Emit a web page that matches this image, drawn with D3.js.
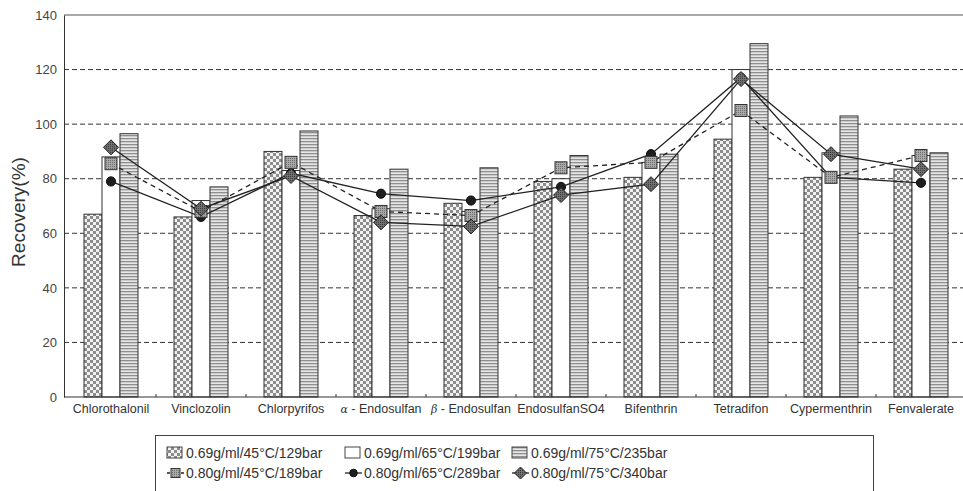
<!DOCTYPE html>
<html>
<head>
<meta charset="utf-8">
<script src="https://cdn.jsdelivr.net/npm/d3@7"></script>
<style>
  body { margin: 0; background: #fff; }
  svg { display: block; font-family: "Liberation Sans", Arial, sans-serif; }
</style>
</head>
<body>
<svg id="chart" width="963" height="491"></svg>
<script>
// chart data
const categories = ["Chlorothalonil", "Vinclozolin", "Chlorpyrifos", "α - Endosulfan", "β - Endosulfan",
  "EndosulfanSO4", "Bifenthrin", "Tetradifon", "Cypermenthrin", "Fenvalerate"];
const yTicks = [0, 20, 40, 60, 80, 100, 120, 140];

const bars45 = [67, 66, 90, 66.5, 71, 79, 80.5, 94.5, 80.5, 83.5];
const bars65 = [88, 72, 83, 69, 68, 80, 86, 120, 89.5, 88.5];
const bars75 = [96.5, 77, 97.5, 83.5, 84, 88.5, 89, 129.5, 103, 89.5];

const line189 = [85.5, 68, 86, 68, 66.5, 84, 86, 105, 80.5, 88.5];
const line289 = [79, 66, 82, 74.5, 72, 77, 89, 117, 80.5, 78.5];
const line340 = [91.5, 69, 81, 64, 62.5, 74, 78, 116.5, 89, 83.5];

const barSeries = [
  { name: "0.69g/ml/45°C/129bar", values: bars45, fill: "url(#checker)" },
  { name: "0.69g/ml/65°C/199bar", values: bars65, fill: "#fff" },
  { name: "0.69g/ml/75°C/235bar", values: bars75, fill: "url(#stripes)" }
];
const lineSeries = [
  { name: "0.80g/ml/45°C/189bar", values: line189, marker: "square", dash: "5,4" },
  { name: "0.80g/ml/65°C/289bar", values: line289, marker: "circle", dash: null },
  { name: "0.80g/ml/75°C/340bar", values: line340, marker: "diamond", dash: null }
];

const svg = d3.select("#chart");
const plotLeft = 64, plotRight = 964, plotTop = 15, plotBottom = 397;

const x = d3.scaleBand().domain(categories).range([66, 966]);
const xi = d3.scaleBand().domain([0, 1, 2]).range([-27, 27]);
const y = d3.scaleLinear().domain([0, 140]).range([plotBottom, plotTop]);

// fill patterns
const defs = svg.append("defs");
const checker = defs.append("pattern").attr("id", "checker")
  .attr("patternUnits", "userSpaceOnUse").attr("width", 6).attr("height", 6);
checker.append("rect").attr("width", 6).attr("height", 6).attr("fill", "#f2f2f2");
checker.append("rect").attr("width", 3).attr("height", 3).attr("fill", "#8c8c8c");
checker.append("rect").attr("x", 3).attr("y", 3).attr("width", 3).attr("height", 3).attr("fill", "#8c8c8c");

const stripes = defs.append("pattern").attr("id", "stripes")
  .attr("patternUnits", "userSpaceOnUse").attr("width", 4).attr("height", 3);
stripes.append("rect").attr("width", 4).attr("height", 3).attr("fill", "#e6e6e6");
stripes.append("rect").attr("width", 4).attr("height", 1.3).attr("fill", "#8f8f8f");

const sqFill = defs.append("pattern").attr("id", "sqfill")
  .attr("patternUnits", "userSpaceOnUse").attr("width", 2).attr("height", 2);
sqFill.append("rect").attr("width", 2).attr("height", 2).attr("fill", "#a8a8a8");
sqFill.append("rect").attr("width", 1).attr("height", 1).attr("fill", "#6e6e6e");

const dmFill = defs.append("pattern").attr("id", "dmfill")
  .attr("patternUnits", "userSpaceOnUse").attr("width", 2).attr("height", 2);
dmFill.append("rect").attr("width", 2).attr("height", 2).attr("fill", "#707070");
dmFill.append("rect").attr("width", 1).attr("height", 1).attr("fill", "#3a3a3a");

// grid
svg.append("g").selectAll("line")
  .data(yTicks.filter(t => t > 0 && t < 140))
  .join("line")
  .attr("x1", plotLeft).attr("x2", plotRight)
  .attr("y1", d => y(d)).attr("y2", d => y(d))
  .attr("stroke", "#333").attr("stroke-width", 1).attr("stroke-dasharray", "5,3");

svg.append("line").attr("x1", plotLeft).attr("x2", plotRight).attr("y1", y(140)).attr("y2", y(140))
  .attr("stroke", "#555").attr("stroke-width", 1.2);

// y axis
const yAxis = d3.axisLeft(y).tickValues(yTicks).tickSize(0).tickPadding(7);
const gy = svg.append("g").attr("transform", `translate(${plotLeft},0)`).call(yAxis);
gy.select(".domain").attr("stroke", "#333");
gy.selectAll("text").attr("font-size", 13).attr("fill", "#444")
  .attr("font-family", "Liberation Sans, Arial, sans-serif");

svg.append("text")
  .attr("transform", `translate(25,${(plotTop + plotBottom) / 2 + 6}) rotate(-90)`)
  .attr("text-anchor", "middle").attr("font-size", 19).attr("fill", "#333")
  .text("Recovery(%)");

// bars
barSeries.forEach((s, i) => {
  svg.append("g").selectAll("rect")
    .data(s.values)
    .join("rect")
    .attr("x", (d, j) => x(categories[j]) + x.bandwidth() / 2 + xi(i))
    .attr("y", d => y(d))
    .attr("width", xi.bandwidth())
    .attr("height", d => y(0) - y(d))
    .attr("fill", s.fill)
    .attr("stroke", "#333").attr("stroke-width", 1);
});

// x axis
const xAxis = d3.axisBottom(x).tickSize(0).tickPadding(7);
const gx = svg.append("g").attr("transform", `translate(0,${plotBottom})`).call(xAxis);
gx.select(".domain").remove();
gx.selectAll("text").attr("font-size", 12.5).attr("fill", "#333")
  .attr("font-family", "Liberation Sans, Arial, sans-serif")
  .each(function (d) {
    const m = /^([αβ])(.*)$/.exec(d);
    if (m) {
      const t = d3.select(this).text(null);
      t.append("tspan").attr("font-style", "italic").attr("font-family", "DejaVu Serif, serif").attr("font-size", 11).text(m[1]);
      t.append("tspan").text(m[2]);
    }
  });
svg.append("line").attr("x1", plotLeft).attr("x2", plotRight).attr("y1", plotBottom).attr("y2", plotBottom)
  .attr("stroke", "#333").attr("stroke-width", 1.2);
svg.append("g").selectAll("line")
  .data(categories.slice(1))
  .join("line")
  .attr("x1", d => x(d)).attr("x2", d => x(d))
  .attr("y1", plotBottom).attr("y2", plotBottom - 3)
  .attr("stroke", "#333");

// lines + markers
const cx = j => x(categories[j]) + x.bandwidth() / 2;
const line = d3.line().x((d, j) => cx(j)).y(d => y(d));

function drawMarker(g, type, px, py, r) {
  if (type === "square") {
    g.append("rect").attr("x", px - r).attr("y", py - r).attr("width", 2 * r).attr("height", 2 * r)
      .attr("fill", "url(#sqfill)").attr("stroke", "#333").attr("stroke-width", 1);
  } else if (type === "circle") {
    g.append("circle").attr("cx", px).attr("cy", py).attr("r", r)
      .attr("fill", "#1e1e1e").attr("stroke", "#111");
  } else {
    g.append("path").attr("d", `M${px},${py - r}L${px + r},${py}L${px},${py + r}L${px - r},${py}Z`)
      .attr("fill", "url(#dmfill)").attr("stroke", "#222").attr("stroke-width", 1);
  }
}
const markerSize = { square: 6, circle: 4.6, diamond: 7.5 };

// circles sit under the squares, diamonds on top
[1, 0, 2].map(i => lineSeries[i]).forEach(s => {
  const g = svg.append("g");
  g.append("path").datum(s.values).attr("d", line)
    .attr("fill", "none").attr("stroke", "#222").attr("stroke-width", 1.3)
    .attr("stroke-dasharray", s.dash);
  s.values.forEach((v, j) => drawMarker(g, s.marker, cx(j), y(v), markerSize[s.marker]));
});

// legend
const lg = svg.append("g");
lg.append("rect").attr("x", 155.5).attr("y", 435.5).attr("width", 718).attr("height", 70)
  .attr("fill", "#fff").attr("stroke", "#444").attr("stroke-width", 1);
const colX = [167, 345, 512];
const rowY = [453, 473];
barSeries.forEach((s, i) => {
  lg.append("rect").attr("x", colX[i]).attr("y", rowY[0] - 6).attr("width", 15).attr("height", 11)
    .attr("fill", s.fill).attr("stroke", "#444");
  lg.append("text").attr("x", colX[i] + 19).attr("y", rowY[0] + 5)
    .attr("font-size", 14).attr("fill", "#333").text(s.name);
});
lineSeries.forEach((s, i) => {
  const x0 = colX[i], yy = rowY[1];
  lg.append("line").attr("x1", x0).attr("x2", x0 + 17).attr("y1", yy).attr("y2", yy)
    .attr("stroke", "#222").attr("stroke-width", 1.3).attr("stroke-dasharray", s.dash ? "3,4" : null);
  drawMarker(lg, s.marker, x0 + 8.5, yy, s.marker === "diamond" ? 6 : (s.marker === "square" ? 4.5 : 3.8));
  lg.append("text").attr("x", x0 + 19).attr("y", yy + 5)
    .attr("font-size", 14).attr("fill", "#333").text(s.name);
});
</script>
</body>
</html>
